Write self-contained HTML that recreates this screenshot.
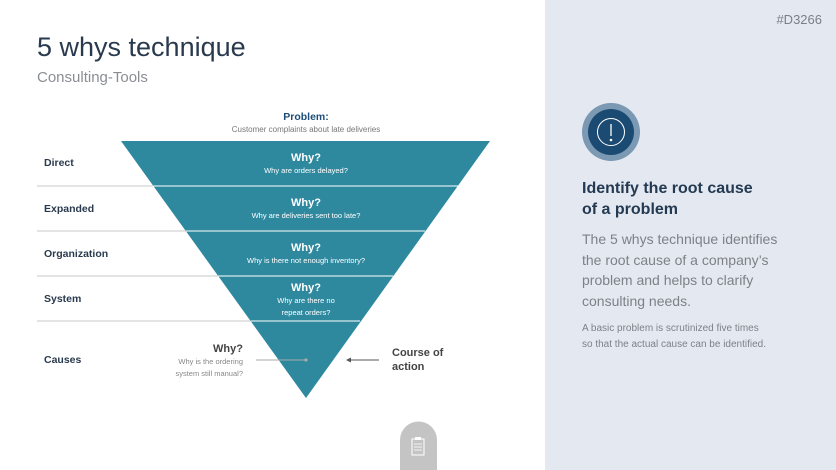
<!DOCTYPE html>
<html><head><meta charset="utf-8"><style>
html,body{margin:0;padding:0;width:836px;height:470px;overflow:hidden;background:#fff}
svg text{font-family:"Liberation Sans",sans-serif}
</style></head><body>
<svg width="836" height="470" viewBox="0 0 836 470" xmlns="http://www.w3.org/2000/svg">
<rect x="545" y="0" width="291" height="470" fill="#e4e9f1"/>
<text x="822" y="24" font-size="13" fill="#7a7f87" text-anchor="end">#D3266</text>
<text x="37" y="56" font-size="27" fill="#2a3a4e">5 whys technique</text>
<text x="37" y="82" font-size="15" fill="#8a8e94">Consulting-Tools</text>

<text x="306" y="120" font-size="10.5" font-weight="bold" fill="#1d4d78" text-anchor="middle">Problem:</text>
<text x="306" y="132" font-size="8" fill="#777" text-anchor="middle">Customer complaints about late deliveries</text>

<polygon points="121,141 490,141 306,398" fill="#2e899f"/>
<g stroke="#c8c8c8" stroke-width="1">
<line x1="37" y1="186" x2="153" y2="186"/>
<line x1="37" y1="231" x2="186" y2="231"/>
<line x1="37" y1="276" x2="218" y2="276"/>
<line x1="37" y1="321" x2="251" y2="321"/>
</g>
<g stroke="#ffffff" stroke-width="1">
<line x1="153" y1="186" x2="458" y2="186"/>
<line x1="186" y1="231" x2="425" y2="231"/>
<line x1="218" y1="276" x2="393" y2="276"/>
<line x1="251" y1="321" x2="360" y2="321"/>
</g>
<g font-size="10.5" font-weight="bold" fill="#2a3a4e">
<text x="44" y="166">Direct</text>
<text x="44" y="212">Expanded</text>
<text x="44" y="257">Organization</text>
<text x="44" y="302">System</text>
<text x="44" y="363">Causes</text>
</g>
<g fill="#fff" text-anchor="middle">
<text x="306" y="161" font-size="11" font-weight="bold">Why?</text>
<text x="306" y="173" font-size="7.5">Why are orders delayed?</text>
<text x="306" y="206" font-size="11" font-weight="bold">Why?</text>
<text x="306" y="218" font-size="7.5">Why are deliveries sent too late?</text>
<text x="306" y="251" font-size="11" font-weight="bold">Why?</text>
<text x="306" y="263" font-size="7.5">Why is there not enough inventory?</text>
<text x="306" y="291" font-size="11" font-weight="bold">Why?</text>
<text x="306" y="303" font-size="7.5">Why are there no</text>
<text x="306" y="315" font-size="7.5">repeat orders?</text>
</g>
<g text-anchor="end">
<text x="243" y="352" font-size="11" font-weight="bold" fill="#444">Why?</text>
<text x="243" y="364" font-size="7.5" fill="#888">Why is the ordering</text>
<text x="243" y="376" font-size="7.5" fill="#888">system still manual?</text>
</g>
<line x1="256" y1="360" x2="306" y2="360" stroke="#aaa" stroke-width="1"/>
<circle cx="306" cy="360" r="1.6" fill="#aaa"/>
<line x1="350" y1="360" x2="379" y2="360" stroke="#555" stroke-width="1"/>
<polygon points="346,360 351,357.5 351,362.5" fill="#555"/>
<text x="392" y="356" font-size="11" font-weight="bold" fill="#444">Course of</text>
<text x="392" y="370" font-size="11" font-weight="bold" fill="#444">action</text>

<path d="M400,470 V440 A18.5,18.5 0 0 1 437,440 V470 Z" fill="#c4c4c4"/>
<rect x="412" y="439" width="12" height="16" fill="none" stroke="#fff" stroke-width="1"/>
<rect x="415" y="437" width="6" height="3" fill="#fff"/>
<g stroke="#fff" stroke-width="0.8"><line x1="414" y1="444" x2="422" y2="444"/><line x1="414" y1="447" x2="422" y2="447"/><line x1="414" y1="450" x2="422" y2="450"/></g>

<circle cx="611" cy="132" r="29" fill="#7b99b3"/>
<circle cx="611" cy="132" r="23" fill="#1b4a72"/>
<circle cx="611" cy="132" r="13.5" fill="none" stroke="#fff" stroke-width="1"/>
<line x1="611" y1="124" x2="611" y2="136" stroke="#fff" stroke-width="1.3"/>
<circle cx="611" cy="140" r="1.3" fill="#fff"/>

<text x="582" y="193" font-size="16" font-weight="bold" fill="#243a52">Identify the root cause</text>
<text x="582" y="214" font-size="16" font-weight="bold" fill="#243a52">of a problem</text>
<g font-size="14" fill="#7d8187">
<text x="582" y="244">The 5 whys technique identifies</text>
<text x="582" y="265">the root cause of a company’s</text>
<text x="582" y="285">problem and helps to clarify</text>
<text x="582" y="306">consulting needs.</text>
</g>
<g font-size="10" fill="#7d8187">
<text x="582" y="331">A basic problem is scrutinized five times</text>
<text x="582" y="347">so that the actual cause can be identified.</text>
</g>
</svg>
</body></html>
